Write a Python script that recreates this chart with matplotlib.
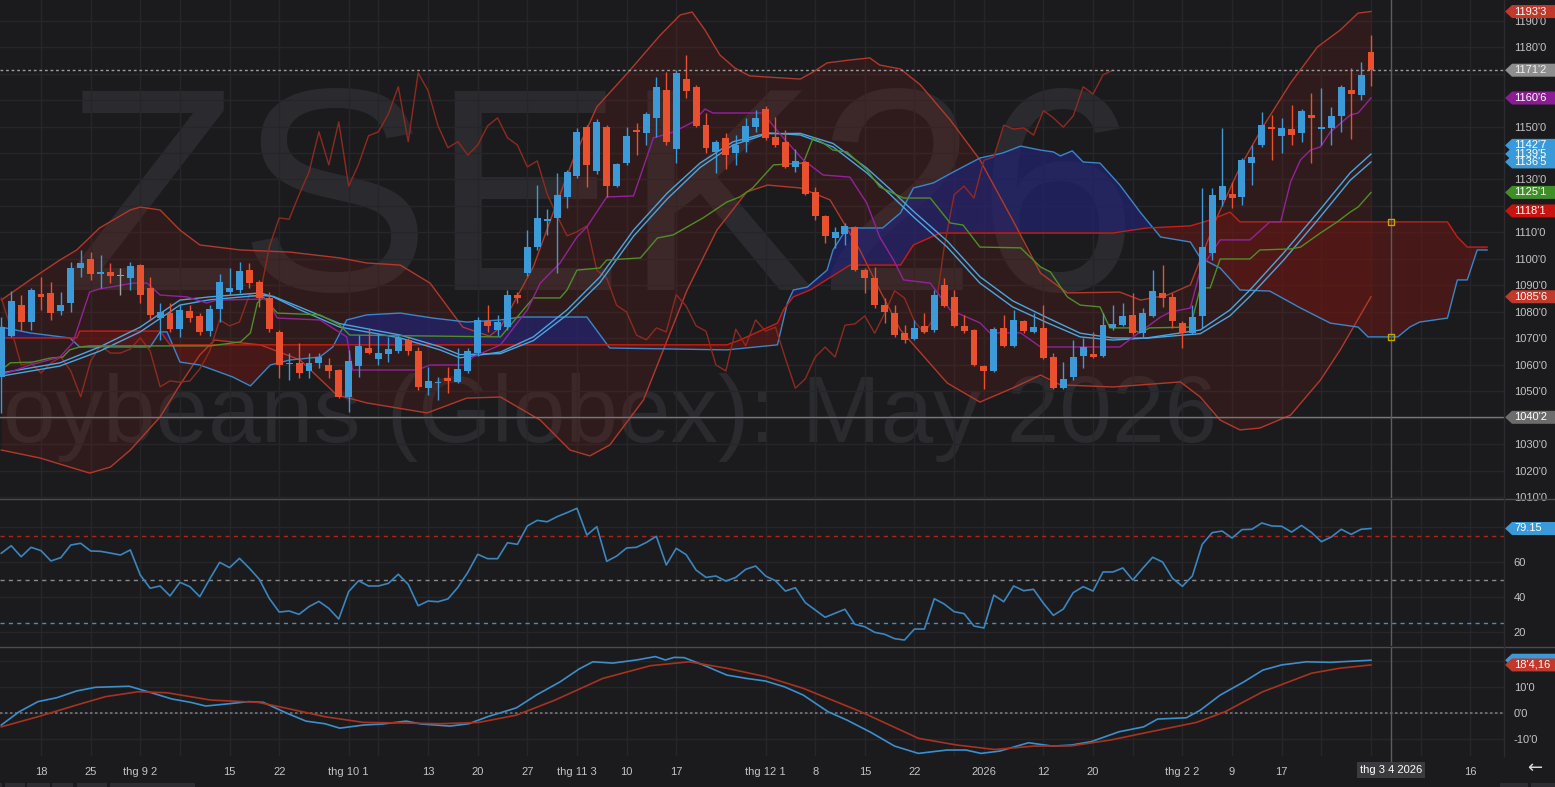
import numpy as np
import matplotlib
matplotlib.use('Agg')
import matplotlib.pyplot as plt
from matplotlib.patches import Polygon, Rectangle
from matplotlib.lines import Line2D
from matplotlib.transforms import blended_transform_factory

# daily OHLC, ZSK26, 12 Aug 2025 .. 2 Mar 2026 (one row per trading day)
opens = [1055.5, 1071.0, 1082.5, 1076.25, 1086.75, 1087.25, 1080.5, 1083.5, 1096.5, 1100.0,
         1094.25, 1095.0, 1093.5, 1092.75, 1097.75, 1089.0, 1077.75, 1079.5, 1073.5, 1080.5,
         1078.5, 1072.75, 1081.0, 1087.5, 1088.25, 1095.75, 1091.25, 1085.25, 1072.5, 1060.25,
         1060.75, 1057.75, 1060.75, 1060.0, 1058.0, 1048.0, 1059.5, 1066.5, 1062.25, 1064.0,
         1065.25, 1069.5, 1065.25, 1051.25, 1053.25, 1055.0, 1053.5, 1057.75, 1064.5, 1076.5,
         1073.25, 1074.25, 1086.5, 1094.75, 1104.5, 1114.5, 1115.5, 1123.5, 1131.25, 1149.75,
         1133.25, 1149.75, 1127.5, 1136.25, 1148.75, 1147.5, 1153.25, 1163.75, 1141.5, 1168.0,
         1165.0, 1150.5, 1140.5, 1145.75, 1140.0, 1144.25, 1149.75, 1156.5, 1146.0, 1144.25,
         1134.75, 1136.5, 1125.25, 1116.25, 1108.0, 1109.5, 1112.0, 1095.75, 1092.75, 1082.5,
         1079.5, 1072.0, 1069.75, 1074.75, 1073.25, 1090.25, 1085.75, 1074.75, 1073.25, 1059.5,
         1057.75, 1074.0, 1067.25, 1076.5, 1072.5, 1074.0, 1063.0, 1051.25, 1055.5, 1063.5,
         1064.25, 1063.5, 1074.0, 1075.0, 1079.0, 1072.0, 1078.5, 1087.25, 1085.75, 1076.0,
         1072.0, 1078.5, 1102.25, 1122.25, 1124.5, 1123.5, 1136.25, 1143.0, 1149.75, 1146.5,
         1149.0, 1147.5, 1154.25, 1149.0, 1149.5, 1154.0, 1163.75, 1162.0, 1178.0]
highs = [1078.0, 1088.0, 1086.5, 1089.0, 1093.25, 1091.25, 1087.5, 1099.0, 1103.5, 1102.5,
         1101.5, 1098.5, 1096.5, 1099.0, 1098.0, 1093.25, 1083.5, 1083.5, 1082.5, 1082.5,
         1079.5, 1082.5, 1094.25, 1096.5, 1099.0, 1098.5, 1092.0, 1087.5, 1073.25, 1064.5,
         1068.25, 1064.5, 1064.5, 1062.5, 1058.5, 1065.75, 1071.25, 1074.0, 1072.0, 1070.5,
         1071.25, 1070.25, 1066.75, 1059.25, 1055.5, 1059.25, 1066.5, 1066.5, 1078.0, 1082.5,
         1079.0, 1088.25, 1087.5, 1111.0, 1128.0, 1119.0, 1132.5, 1133.5, 1149.5, 1150.5,
         1152.75, 1150.5, 1136.25, 1149.75, 1151.25, 1155.5, 1168.75, 1170.5, 1171.25, 1177.0,
         1165.5, 1155.0, 1145.0, 1147.5, 1146.75, 1153.25, 1156.25, 1157.75, 1153.5, 1148.75,
         1141.5, 1137.0, 1127.25, 1116.5, 1112.0, 1113.5, 1112.5, 1096.5, 1097.0, 1085.25,
         1082.5, 1075.0, 1077.0, 1079.5, 1088.25, 1092.75, 1088.25, 1079.0, 1073.5, 1060.0,
         1074.5, 1079.0, 1080.75, 1077.0, 1079.5, 1082.5, 1064.5, 1061.0, 1069.5, 1070.25,
         1072.5, 1079.5, 1082.5, 1083.5, 1087.25, 1081.5, 1095.75, 1097.75, 1087.25, 1076.5,
         1082.5, 1126.75, 1126.75, 1149.5, 1129.0, 1138.0, 1143.0, 1155.5, 1154.25, 1153.25,
         1158.0, 1156.5, 1162.5, 1164.5, 1157.5, 1165.75, 1172.0, 1174.25, 1184.5]
lows = [1042.0, 1070.5, 1073.0, 1073.25, 1080.75, 1077.0, 1079.0, 1080.0, 1093.25, 1092.0,
        1089.0, 1091.0, 1086.5, 1088.25, 1083.5, 1077.0, 1069.5, 1072.5, 1070.5, 1076.25,
        1071.25, 1071.0, 1076.25, 1086.5, 1087.25, 1089.0, 1082.0, 1072.5, 1055.0, 1054.25,
        1055.0, 1055.0, 1059.0, 1055.0, 1047.5, 1042.25, 1055.5, 1064.0, 1060.0, 1061.0,
        1064.5, 1063.75, 1050.5, 1048.75, 1046.75, 1049.5, 1053.25, 1057.0, 1063.5, 1072.5,
        1071.0, 1073.25, 1083.5, 1093.5, 1103.5, 1109.0, 1094.75, 1119.25, 1130.5, 1127.25,
        1132.0, 1123.5, 1127.0, 1135.5, 1139.25, 1143.0, 1146.0, 1143.0, 1136.25, 1160.75,
        1149.75, 1140.0, 1132.5, 1134.0, 1135.5, 1140.5, 1148.0, 1145.0, 1142.25, 1134.25,
        1132.75, 1124.0, 1114.75, 1106.0, 1104.25, 1105.25, 1095.5, 1087.25, 1081.5, 1076.0,
        1070.5, 1068.25, 1069.5, 1072.0, 1072.5, 1082.0, 1074.25, 1072.0, 1059.5, 1051.0,
        1057.25, 1066.75, 1066.75, 1072.0, 1072.0, 1062.25, 1051.0, 1051.0, 1054.25, 1059.0,
        1062.5, 1063.0, 1073.25, 1074.75, 1071.25, 1070.25, 1078.0, 1082.0, 1074.0, 1066.5,
        1071.75, 1074.0, 1099.5, 1120.0, 1119.25, 1120.5, 1128.0, 1142.25, 1137.5, 1140.0,
        1143.0, 1144.25, 1136.25, 1143.0, 1143.0, 1148.0, 1145.25, 1160.0, 1165.25]
closes = [1074.5, 1084.25, 1076.25, 1088.25, 1085.75, 1079.5, 1082.5, 1096.5, 1098.5, 1094.25,
          1095.0, 1093.5, 1093.5, 1097.5, 1086.5, 1079.0, 1080.0, 1073.5, 1080.75, 1077.75,
          1072.5, 1081.0, 1091.25, 1089.0, 1095.5, 1091.0, 1085.25, 1073.5, 1060.0, 1060.75,
          1057.0, 1060.75, 1063.0, 1057.75, 1048.0, 1061.5, 1067.25, 1064.5, 1064.5, 1066.0,
          1070.25, 1065.25, 1051.75, 1054.0, 1053.5, 1054.0, 1058.5, 1065.25, 1077.0, 1074.75,
          1076.25, 1086.5, 1085.25, 1104.5, 1115.5, 1115.0, 1124.25, 1132.75, 1148.0, 1135.5,
          1151.75, 1127.5, 1135.75, 1146.5, 1148.0, 1154.75, 1165.0, 1144.25, 1170.25, 1163.5,
          1150.25, 1142.0, 1144.25, 1139.25, 1143.0, 1150.25, 1153.25, 1145.75, 1143.0, 1134.75,
          1137.0, 1124.5, 1116.25, 1108.75, 1110.25, 1112.5, 1095.75, 1092.75, 1082.5, 1080.0,
          1071.25, 1069.5, 1074.0, 1072.5, 1086.5, 1082.25, 1074.75, 1072.75, 1060.0, 1057.75,
          1073.5, 1067.25, 1077.0, 1072.75, 1074.25, 1062.5, 1051.25, 1054.75, 1063.0, 1066.75,
          1063.0, 1075.0, 1075.5, 1078.5, 1072.0, 1079.5, 1088.0, 1085.25, 1076.5, 1072.0,
          1078.0, 1104.5, 1124.25, 1127.5, 1123.0, 1137.25, 1138.5, 1150.5, 1149.0, 1149.5,
          1146.75, 1156.0, 1153.25, 1149.75, 1154.0, 1165.0, 1162.25, 1169.5, 1171.25]

# indicator lines as (bar index, value) vertices
bb_up_i = [0, 2.9, 5.9, 7.6, 9.9, 13.0, 14.0, 16.0, 18.0, 20.0, 24.1, 29.1, 34.1, 36.8, 40.2,
           43.2, 45.2, 46.5, 48.2, 49.2, 50.3, 53.6, 55.6, 57.6, 60.0, 63.1, 65.1, 66.4, 68.4,
           69.6, 70.9, 72.4, 73.9, 75.4, 80.5, 81.8, 83.2, 85.5, 87.5, 88.5, 90.6, 92.6, 95.6,
           98.6, 101.9, 104.7, 107.4, 112.7, 114.8, 117.5, 119.8, 122.5, 124.8, 127.1, 129.9,
           132.6, 134.9, 136.7, 138]
bb_up_v = [1084.5, 1092.1, 1099.6, 1103.4, 1111.7, 1118.5, 1119.6, 1118.5, 1110.9, 1105.3,
           1103.4, 1102.6, 1100.4, 1098.5, 1097.7, 1090.9, 1080.8, 1074.3, 1072.1, 1070.9,
           1074.3, 1097.0, 1117.4, 1137.4, 1157.4, 1170.2, 1178.9, 1184.5, 1192.1, 1193.2,
           1186.4, 1177.0, 1172.1, 1169.1, 1167.9, 1170.6, 1174.0, 1175.1, 1175.9, 1173.2,
           1171.7, 1165.7, 1152.5, 1137.4, 1114.7, 1094.7, 1087.2, 1087.5, 1084.5, 1086.4,
           1090.2, 1115.9, 1134.7, 1149.8, 1166.4, 1180.0, 1186.4, 1192.8, 1193.4]
bb_lo_i = [0, 3.9, 8.9, 11.0, 13.0, 16.0, 18.0, 20.0, 21.5, 26.1, 30.1, 33.8, 36.8, 42.9, 46.9,
           50.3, 54.3, 57.3, 59.3, 61.3, 64.7, 69.1, 72.1, 75.1, 77.2, 80.5, 83.5, 86.5, 88.5,
           90.6, 95.3, 98.6, 101.9, 104.7, 106.7, 112.0, 118.8, 120.8, 122.8, 124.8, 126.8,
           129.9, 132.9, 134.9, 138]
bb_lo_v = [1027.9, 1024.9, 1019.2, 1021.5, 1027.9, 1040.4, 1052.5, 1063.8, 1069.4, 1067.6,
           1061.9, 1048.7, 1045.7, 1041.9, 1047.5, 1047.9, 1039.2, 1027.9, 1025.7, 1029.8,
           1046.8, 1088.3, 1110.9, 1125.3, 1127.9, 1126.8, 1122.3, 1103.4, 1088.3, 1073.2,
           1053.2, 1046.0, 1051.3, 1056.2, 1052.5, 1051.7, 1053.6, 1047.9, 1039.2, 1035.5,
           1036.2, 1041.1, 1054.3, 1065.7, 1085.75]

ma_i = [0, 5.9, 9.9, 14.0, 18.0, 21.0, 26.1, 27.4, 30.1, 34.1, 40.2, 44.2, 46.2, 50.3, 53.6,
        57.0, 60.3, 63.7, 67.1, 70.4, 73.7, 77.2, 80.5, 83.8, 87.2, 89.6, 91.9, 95.3, 98.6,
        101.9, 105.4, 108.7, 112.0, 115.4, 118.8, 120.8, 123.8, 125.8, 129.2, 132.6, 135.9, 138]
ma_fast = [1057.0, 1060.8, 1066.8, 1074.3, 1084.5, 1085.7, 1087.2, 1085.7, 1080.8, 1074.3,
           1070.2, 1065.7, 1062.7, 1064.9, 1070.6, 1080.8, 1093.2, 1110.9, 1124.9, 1136.2,
           1144.2, 1147.6, 1146.8, 1142.3, 1132.5, 1124.2, 1115.9, 1104.5, 1090.9, 1081.9,
           1075.9, 1070.6, 1069.4, 1070.2, 1072.1, 1073.2, 1080.8, 1088.3, 1102.3, 1117.4,
           1132.5, 1139.6]
ma_slow = [1055.8, 1059.6, 1065.2, 1072.5, 1082.6, 1084.6, 1086.3, 1085.9, 1081.8, 1075.6,
           1071.3, 1066.9, 1063.9, 1064.3, 1069.2, 1078.9, 1091.0, 1108.6, 1122.7, 1134.5,
           1143.0, 1147.3, 1147.4, 1143.6, 1134.3, 1126.2, 1118.0, 1106.8, 1093.3, 1084.2,
           1077.8, 1072.0, 1070.2, 1070.1, 1071.2, 1071.8, 1078.6, 1085.9, 1099.6, 1114.6,
           1129.7, 1136.6]

tenkan_i = [0, 2.9, 5.9, 7.2, 8.9, 9.9, 13.3, 14.7, 16.0, 18.7, 20.7, 21.7, 26.8, 27.8, 32.1,
            34.8, 35.4, 41.9, 43.2, 46.9, 47.5, 50.3, 53.0, 54.3, 56.3, 58.0, 59.0, 61.0, 63.7,
            65.7, 67.7, 69.7, 70.9, 71.7, 76.7, 78.8, 80.8, 82.8, 85.5, 87.2, 88.5, 89.9, 90.9,
            93.6, 95.6, 98.6, 99.6, 102.7, 104.7, 112.7, 115.0, 116.8, 117.8, 119.8, 120.8,
            122.8, 125.8, 127.8, 128.9, 129.9, 130.9, 131.9, 132.9, 133.9, 135.9, 136.7, 138]
tenkan_v = [1056.2, 1060.0, 1063.0, 1068.3, 1087.5, 1088.7, 1090.9, 1090.9, 1086.4, 1085.7,
            1083.4, 1084.5, 1084.9, 1077.7, 1077.0, 1070.6, 1058.1, 1058.1, 1060.0, 1060.0,
            1063.0, 1067.6, 1080.8, 1090.9, 1098.5, 1108.3, 1112.1, 1123.4, 1123.8, 1145.7,
            1147.9, 1151.7, 1156.6, 1155.1, 1155.1, 1145.7, 1137.4, 1131.7, 1130.9, 1121.1,
            1108.3, 1099.6, 1092.1, 1090.9, 1080.8, 1075.9, 1072.1, 1072.1, 1066.8, 1066.8,
            1073.2, 1078.1, 1080.0, 1081.5, 1095.8, 1107.2, 1107.2, 1114.0, 1114.0, 1129.1,
            1137.4, 1141.1, 1142.3, 1147.9, 1154.3, 1155.1, 1160.75]

kijun_i = [0, 0.9, 3.2, 4.9, 6.2, 6.9, 7.9, 8.9, 21.0, 24.1, 25.1, 25.8, 26.4, 27.8, 32.1, 34.1,
           35.1, 50.3, 53.6, 56.3, 57.0, 58.0, 60.3, 61.0, 64.4, 66.1, 67.7, 69.1, 70.7, 73.1,
           74.4, 75.7, 77.8, 80.8, 81.8, 82.8, 83.8, 85.2, 87.2, 88.5, 90.9, 93.6, 95.6, 96.9,
           98.6, 102.7, 104.7, 105.7, 107.4, 108.7, 110.7, 111.7, 113.7, 114.7, 115.7, 119.8,
           120.8, 121.8, 122.8, 125.8, 126.8, 129.9, 130.9, 132.9, 134.6, 135.9, 136.7, 138]
kijun_v = [1058.1, 1060.8, 1061.1, 1062.6, 1063.0, 1065.7, 1066.8, 1067.2, 1067.2, 1068.7,
           1072.1, 1083.4, 1085.7, 1079.6, 1078.9, 1075.1, 1071.3, 1070.6, 1085.3, 1085.3,
           1088.3, 1095.8, 1096.6, 1099.6, 1100.4, 1107.9, 1109.1, 1112.1, 1115.5, 1121.5,
           1123.4, 1126.8, 1135.5, 1136.2, 1145.7, 1143.8, 1141.1, 1140.4, 1133.6, 1127.2,
           1123.0, 1123.0, 1113.6, 1112.8, 1104.5, 1104.2, 1097.0, 1095.1, 1085.7, 1082.6,
           1081.9, 1074.0, 1074.0, 1072.1, 1074.0, 1074.3, 1089.1, 1089.1, 1100.0, 1100.0,
           1103.4, 1103.8, 1104.5, 1109.8, 1114.0, 1117.7, 1119.6, 1125.1]

span_a_i = [0, 2.9, 6.9, 7.9, 15.0, 16.0, 16.7, 18.0, 20.0, 23.3, 25.1, 27.1, 29.1, 32.1, 33.4,
            34.8, 36.8, 40.2, 43.5, 46.9, 50.3, 52.3, 59.0, 61.3, 73.1, 78.2, 79.2, 79.8, 81.2,
            83.2, 83.8, 85.2, 88.8, 90.6, 91.9, 93.9, 95.9, 98.6, 100.9, 102.7, 104.7, 106.0,
            106.7, 107.9, 109.0, 110.7, 112.7, 114.8, 116.8, 119.8, 120.8, 122.8, 124.8, 127.8,
            130.9, 133.9, 136.7, 137.7, 140.7, 141.9, 142.9, 145.7, 146.7, 147.7, 148.7, 149.7]
span_a_v = [1074.3, 1072.1, 1070.2, 1066.8, 1066.8, 1072.5, 1072.5, 1061.1, 1060.0, 1055.5,
            1052.1, 1060.0, 1061.9, 1063.0, 1066.8, 1077.0, 1078.9, 1079.6, 1077.7, 1076.2,
            1077.0, 1078.1, 1078.1, 1066.4, 1065.7, 1067.6, 1083.4, 1088.3, 1089.4, 1095.8,
            1103.4, 1111.7, 1111.7, 1117.4, 1126.8, 1128.7, 1132.8, 1138.1, 1140.0, 1142.6,
            1141.1, 1140.4, 1138.9, 1140.8, 1136.6, 1136.2, 1127.9, 1117.4, 1108.3, 1106.4,
            1100.4, 1096.6, 1088.3, 1087.9, 1081.5, 1075.8, 1074.3, 1070.6, 1070.6, 1074.3,
            1076.2, 1077.7, 1092.1, 1092.1, 1103.4, 1103.4]
span_b_i = [0, 7.6, 7.9, 16.0, 17.0, 73.1, 74.4, 78.2, 78.8, 79.8, 81.5, 85.5, 90.6, 91.9, 94.6,
            112.0, 115.4, 119.8, 121.8, 123.8, 124.8, 145.7, 146.7, 147.7, 149.7]
span_b_v = [1070.2, 1070.2, 1072.8, 1072.8, 1067.6, 1067.6, 1069.4, 1075.8, 1080.8, 1085.7,
            1088.3, 1097.7, 1097.7, 1105.3, 1109.8, 1109.8, 1111.7, 1112.5, 1114.7, 1117.7,
            1114.0, 1114.0, 1108.3, 1104.5, 1104.5]

rsi = [65.0, 69.3, 63.0, 68.4, 66.5, 60.6, 62.5, 69.7, 70.7, 66.3, 66.1, 65.1, 64.0, 66.9, 52.6,
       45.0, 46.3, 40.6, 48.4, 45.9, 40.2, 50.3, 59.8, 56.8, 62.1, 56.4, 50.1, 39.2, 31.4, 32.0,
       30.1, 34.5, 37.5, 33.5, 27.4, 43.1, 49.3, 46.3, 46.3, 47.8, 53.0, 47.2, 35.0, 37.7, 37.3,
       38.9, 45.5, 54.1, 64.4, 61.9, 61.9, 71.0, 70.1, 80.6, 83.8, 83.0, 85.9, 88.2, 90.7, 75.4,
       80.2, 60.4, 63.4, 68.0, 68.4, 71.2, 74.7, 58.3, 67.8, 64.2, 55.4, 51.2, 52.0, 49.1, 51.2,
       55.8, 57.7, 52.0, 49.3, 43.4, 45.3, 36.8, 32.6, 28.4, 30.7, 33.0, 24.4, 23.0, 19.8, 18.7,
       16.2, 15.4, 21.7, 21.7, 39.0, 36.0, 31.6, 30.5, 23.4, 22.3, 41.1, 37.3, 46.3, 43.6, 44.4,
       36.4, 29.5, 33.1, 42.5, 45.9, 43.4, 54.3, 54.3, 56.6, 49.7, 56.4, 62.7, 60.0, 50.7, 46.1,
       52.0, 70.1, 76.8, 77.7, 73.7, 78.5, 78.7, 82.3, 80.6, 80.4, 77.1, 80.9, 76.9, 71.6, 74.3,
       78.7, 75.8, 78.7, 79.15]

macd_i = [0, 1.8, 3.7, 5.6, 7.6, 9.5, 12.9, 15.3, 17.2, 19.1, 20.6, 23.0, 24.9, 26.4, 28.8, 30.7,
          32.6, 34.1, 36.5, 38.4, 40.8, 42.3, 45.2, 47.1, 49.0, 51.9, 53.9, 56.3, 58.2, 59.6,
          61.6, 64.0, 65.9, 66.9, 67.8, 68.8, 70.7, 73.1, 75.1, 77.0, 78.9, 80.8, 83.3, 85.2,
          87.6, 90.0, 92.4, 95.3, 97.2, 98.7, 100.6, 103.5, 105.9, 107.8, 109.8, 112.6, 115.1,
          116.5, 119.4, 120.8, 122.8, 125.2, 127.1, 129.0, 131.5, 133.9, 138]
macd_v = [-4.6, 0.5, 4.4, 5.9, 8.5, 9.9, 10.3, 7.6, 5.4, 4.1, 2.7, 3.6, 4.4, 4.1, -0.1, -3.1,
          -4.1, -5.8, -4.6, -4.2, -3.1, -4.2, -5.0, -4.1, -1.4, 2.0, 6.9, 12.0, 16.9, 19.7, 19.2,
          20.4, 21.7, 20.4, 21.4, 21.3, 18.5, 14.6, 13.3, 12.3, 10.1, 6.9, 0.5, -2.7, -7.4,
          -12.7, -15.5, -14.2, -14.2, -15.5, -14.6, -11.4, -12.7, -12.3, -11.0, -7.2, -5.3,
          -2.3, -1.8, 1.1, 6.9, 12.0, 16.5, 18.5, 19.7, 19.5, 20.3]
sig_i = [0, 3.7, 7.6, 10.5, 13.8, 16.7, 21.1, 25.9, 28.8, 32.6, 36.5, 40.3, 44.2, 48.1, 51.9,
         55.8, 60.6, 65.4, 69.3, 73.1, 77.0, 80.8, 86.6, 92.4, 96.3, 100.1, 104.0, 107.8,
         111.7, 115.5, 120.4, 123.3, 127.1, 132.0, 134.8, 138]
sig_v = [-5.3, -1.4, 3.1, 6.3, 8.2, 7.8, 5.0, 4.1, 1.8, -1.4, -3.6, -3.8, -4.1, -3.6, -0.8, 5.0,
         13.3, 18.2, 19.7, 17.2, 14.0, 9.5, 0.5, -9.7, -12.3, -14.0, -12.7, -12.6, -10.4, -7.4,
         -3.6, 0.5, 8.2, 15.3, 17.2, 18.5]

tick_pos = [4, 9, 14, 23, 28, 35, 43, 48, 53, 58, 63, 68, 77, 82, 87, 92, 99, 105, 110, 119,
            124, 129, 148]
tick_lab = ['18', '25', 'thg 9 2', '15', '22', 'thg 10 1', '13', '20', '27', 'thg 11 3', '10',
            '17', 'thg 12 1', '8', '15', '22', '2026', '12', '20', 'thg 2 2', '9', '17', '16']
grid_extra = [18, 38, 96, 114, 133, 138, 143]

BG = '#1b1b1e'
GRID = '#26262a'
TXT = '#c4c4c4'
UP = '#3d9ad9'
DN = '#e9502d'
plt.rcParams['font.family'] = ['Liberation Sans Narrow', 'Liberation Sans', 'DejaVu Sans']

W, H = 1555, 787
def rect(x0, y0, x1, y1):
    return [x0 / W, 1 - y1 / H, (x1 - x0) / W, (y1 - y0) / H]

fig = plt.figure(figsize=(W / 100, H / 100), dpi=100)
fig.patch.set_facecolor(BG)
ax = fig.add_axes(rect(0, 0, 1504, 498))
ax_r = fig.add_axes(rect(0, 500, 1504, 646), sharex=ax)
ax_m = fig.add_axes(rect(0, 648, 1504, 756), sharex=ax)

for a in (ax, ax_r, ax_m):
    a.set_facecolor(BG)
    for s in a.spines.values():
        s.set_visible(False)
    a.yaxis.tick_right()
    a.tick_params(axis='y', length=0, pad=7, labelsize=8, labelcolor=TXT)
    a.tick_params(axis='x', length=0, labelsize=8, labelcolor=TXT, pad=8)
    a.set_xticks(tick_pos)
    a.set_xticks(grid_extra, minor=True)
    a.tick_params(axis='x', which='minor', length=0)
    a.grid(True, which='both', color=GRID, lw=1)
    a.set_axisbelow(True)
ax.set_xlim(-0.13, 151.4)
ax.tick_params(axis='x', labelbottom=False)
ax_r.tick_params(axis='x', labelbottom=False)
ax_m.set_xticklabels(tick_lab)

# ---- main price pane ----
ax.set_ylim(1009.8, 1197.74)
ax.set_yticks(np.arange(1010, 1191, 10))
hidden = {1170, 1160, 1140, 1120, 1040}   # sit under the value tags
ax.set_yticklabels(['' if v in hidden else f"{v}'0" for v in range(1010, 1191, 10)])

ax.text(0.042, 0.418, 'ZSEK26', transform=ax.transAxes, fontsize=208, color='#2b2b2f',
        family=['Liberation Sans', 'DejaVu Sans'], zorder=0, va='baseline')
ax.text(-0.04, 0.112, 'Soybeans (Globex): May 2026', transform=ax.transAxes, fontsize=68,
        color='#2b2b2f', family=['Liberation Sans', 'DejaVu Sans'], zorder=0, va='baseline')

g = np.union1d(np.union1d(bb_up_i, bb_lo_i), np.linspace(0, 138, 700))
ax.fill_between(g, np.interp(g, bb_up_i, bb_up_v), np.interp(g, bb_lo_i, bb_lo_v),
                color='#7a1f14', alpha=0.22, lw=0, zorder=1)
ax.plot(bb_up_i, bb_up_v, color='#b3382a', lw=1, zorder=3)
ax.plot(bb_lo_i, bb_lo_v, color='#b3382a', lw=1, zorder=3)

gc = np.union1d(np.union1d(span_a_i, span_b_i), np.linspace(0, 149.7, 900))
sa = np.interp(gc, span_a_i, span_a_v)
sb = np.interp(gc, span_b_i, span_b_v)
ax.fill_between(gc, sa, sb, where=sa >= sb, interpolate=True, color='#23236e', alpha=0.75,
                lw=0, zorder=2)
ax.fill_between(gc, sa, sb, where=sa < sb, interpolate=True, color='#6a1712', alpha=0.55,
                lw=0, zorder=2)
ax.plot(span_a_i, span_a_v, color='#3a86c8', lw=1, zorder=3)
ax.plot(span_b_i, span_b_v, color='#c81e16', lw=1, zorder=3)

x = np.arange(len(closes))
c = np.array(closes)
ax.plot(x[:-26], c[26:], color='#8f2a1f', lw=1, zorder=3)
ax.plot(ma_i, ma_fast, color='#4aa6e0', lw=1, zorder=4)
ax.plot(ma_i, ma_slow, color='#4aa6e0', lw=1, zorder=4)
ax.plot(kijun_i, kijun_v, color='#4e8f27', lw=1, zorder=4)
ax.plot(tenkan_i, tenkan_v, color='#93239a', lw=1, zorder=4)

o, h, l = np.array(opens), np.array(highs), np.array(lows)
col = np.where(c > o, UP, np.where(c < o, DN, '#a0a0a0'))
ax.vlines(x, l, h, colors=col, lw=1, zorder=5)
ax.bar(x, np.maximum(np.abs(c - o), 0.45), bottom=np.minimum(o, c), width=0.7, color=col,
       lw=0, zorder=6)

ax.axhline(1171.25, color='#9c9c9c', lw=1, ls=(0, (2, 2)), zorder=7)
ax.axhline(1040.25, color='#77777b', lw=1, zorder=7)
ax.plot([140, 140], [np.interp(140, span_b_i, span_b_v), np.interp(140, span_a_i, span_a_v)],
        ls='none', marker='s', ms=4.5, mfc='none', mec='#c9a400', mew=1, zorder=9)
for a in (ax, ax_r, ax_m):
    a.axvline(140, color='#5d5d60', lw=1, zorder=8)

def tag(a, val, text, fc, pxu, tc='white'):
    tr = blended_transform_factory(fig.transFigure, a.transData)
    hh = 6.5 / pxu
    x0, x1, x2 = 1505 / W, 1512 / W, 1.0
    a.add_patch(Polygon([(x0, val), (x1, val + hh), (x2, val + hh), (x2, val - hh),
                         (x1, val - hh)], closed=True, transform=tr, fc=fc, ec='none',
                        clip_on=False, zorder=10))
    if text:
        a.text(1514 / W, val, text, transform=tr, color=tc, fontsize=8, va='center',
               ha='left', clip_on=False, zorder=11)

tag(ax, 1193.375, "1193'3", '#c0392b', 2.65)
tag(ax, 1171.25, "1171'2", '#8e8e8e', 2.65, '#eeeeee')
tag(ax, 1160.75, "1160'6", '#8c1c96', 2.65)
tag(ax, 1142.875, "1142'7", '#3a9ad9', 2.65)
tag(ax, 1136.625, "1136'5", '#3a9ad9', 2.65)
tag(ax, 1139.625, "1139'5", '#3a9ad9', 2.65)
tag(ax, 1125.125, "1125'1", '#3f8e27', 2.65)
tag(ax, 1118.125, "1118'1", '#c8140f', 2.65)
tag(ax, 1085.75, "1085'6", '#c0392b', 2.65)
tag(ax, 1040.25, "1040'2", '#6c6c6c', 2.65)

# ---- RSI pane ----
ax_r.set_ylim(12.0, 95.43)
ax_r.set_yticks([20, 40, 60, 80])
ax_r.set_yticklabels(['20', '40', '60', ''])
ax_r.axhline(75, color='#a8261e', lw=1, ls=(0, (3, 3)))
ax_r.axhline(50, color='#8a8a8a', lw=1, ls=(0, (3, 3)))
ax_r.axhline(25, color='#3a8fd0', lw=1, ls=(0, (3, 3)))
ax_r.plot(x, rsi, color='#3a86bf', lw=1.2, zorder=5)
tag(ax_r, 79.15, '79.15', '#3a9ad9', 1.75)

# ---- MACD pane ----
ax_m.set_ylim(-16.5, 25.0)
ax_m.set_yticks([-10, 0, 10, 20])
ax_m.set_yticklabels(["-10'0", "0'0", "10'0", ''])
ax_m.axhline(0, color='#77777b', lw=1.2, ls=(0, (1.5, 1.5)))
ax_m.plot(macd_i, macd_v, color='#3a8fcf', lw=1.2, zorder=5)
ax_m.plot(sig_i, sig_v, color='#a9321f', lw=1.2, zorder=5)
tag(ax_m, 20.3, '', '#3a9ad9', 2.6)
tag(ax_m, 18.5, "18'4,16", '#c0392b', 2.6)

# panel separators, date tooltip, misc chrome
for yy in (499, 647):
    fig.add_artist(Line2D([0, 1], [1 - yy / H] * 2, transform=fig.transFigure,
                          color='#4c4c50', lw=1))
fig.add_artist(Line2D([1504 / W] * 2, [1 - 756 / H, 1], transform=fig.transFigure,
                      color='#2c2c30', lw=1))
fig.add_artist(Line2D([1390.7 / W] * 2, [1 - 762 / H, 1 - 756 / H],
                      transform=fig.transFigure, color='#5d5d60', lw=1))
fig.text(1390.7 / W, 1 - 770 / H, 'thg 3 4 2026', color='white', fontsize=8, ha='center',
         va='center', bbox=dict(boxstyle='square,pad=0.25', fc='#3b3b3f', ec='none'))
fig.text(1535 / W, 1 - 768 / H, '\u2190', color='#d8d8d8', fontsize=13, ha='center',
         va='center', family=['DejaVu Sans'])
for x0, x1 in [(0, 2), (5, 25), (27, 50), (52, 73), (77, 107), (110, 195), (1500, 1528),
               (1531, 1555)]:
    fig.add_artist(Rectangle((x0 / W, 0), (x1 - x0) / W, 4 / H, transform=fig.transFigure,
                             fc='#2e2e32', ec='none'))

fig.savefig('out.png', dpi=100, facecolor=BG)
